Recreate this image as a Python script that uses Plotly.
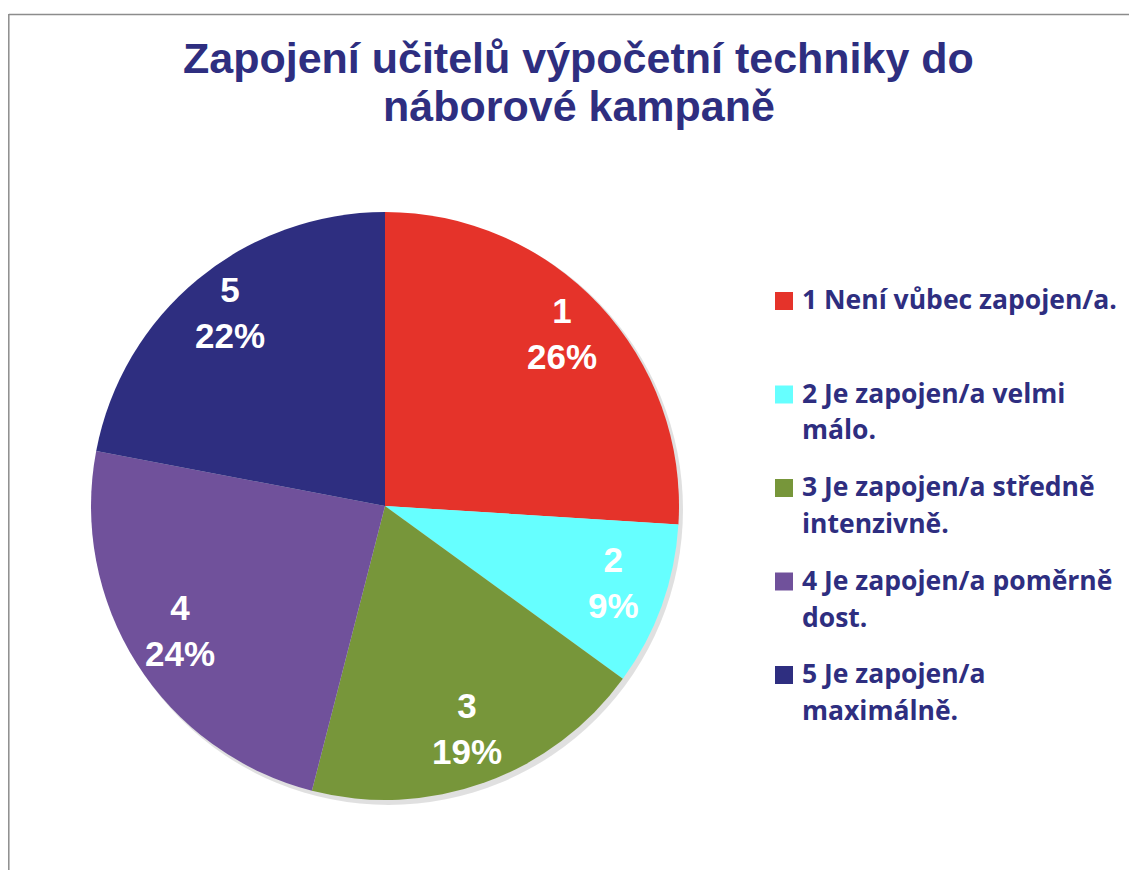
import math
import plotly.graph_objects as go

# ---- data ----
categories = ["1", "2", "3", "4", "5"]
legend_labels = [
    "1 Není vůbec zapojen/a.",
    "2 Je zapojen/a velmi<br>málo.",
    "3 Je zapojen/a středně<br>intenzivně.",
    "4 Je zapojen/a poměrně<br>dost.",
    "5 Je zapojen/a<br>maximálně.",
]
percent_values = [26, 9, 19, 24, 22]
title_lines = ["Zapojení učitelů výpočetní techniky do", "náborové kampaně"]

# ---- style ----
colors = ["#E5332A", "#66FFFF", "#77963A", "#70519B", "#2E2E80"]
navy = "#2E2E80"
OFF = 8  # page body margin
W, H = 1137 - OFF, 870 - OFF


def px(x):
    return (x - OFF) / W


def py(y):
    return 1 - (y - OFF) / H


# pie geometry (screen pixels)
cx, cy, R = 385, 506, 294

fig = go.Figure()
fig.add_trace(go.Pie(
    labels=legend_labels,
    values=percent_values,
    sort=False,
    direction="clockwise",
    rotation=0,
    marker=dict(colors=colors, line=dict(width=0)),
    textinfo="none",
    hoverinfo="label+percent",
    showlegend=False,
    domain=dict(x=[px(cx - R), px(cx + R)], y=[py(cy + R), py(cy - R)]),
))

annotations = []
shapes = []

# border (left and top edges of the chart frame)
shapes.append(dict(type="line", xref="paper", yref="paper",
                   x0=px(8.8), x1=px(8.8), y0=py(900), y1=py(14),
                   line=dict(color="#8C8C8C", width=1.5), layer="below"))
shapes.append(dict(type="line", xref="paper", yref="paper",
                   x0=px(8.8), x1=px(1200), y0=py(14.5), y1=py(14.5),
                   line=dict(color="#8C8C8C", width=1.5), layer="below"))
# soft shadow
shapes.append(dict(type="circle", xref="paper", yref="paper",
                   x0=px(cx - R + 3), x1=px(cx + R + 4), y0=py(cy + R + 5), y1=py(cy - R + 2),
                   line=dict(width=0), fillcolor="rgba(0,0,0,0.12)", layer="below"))

# title
title_y = [58, 106]
for line, yy in zip(title_lines, title_y):
    annotations.append(dict(text=f"<b>{line}</b>", x=px(578.5), y=py(yy), xref="paper", yref="paper",
                            xanchor="center", yanchor="middle", showarrow=False,
                            font=dict(family="Liberation Sans, Arial", size=43, color=navy)))

# slice labels
total = sum(percent_values)
cum = 0
rf = 0.826
for cat, v in zip(categories, percent_values):
    mid = (cum + v / 2) / total * 2 * math.pi
    cum += v
    lx = cx + rf * R * math.sin(mid)
    ly = cy - rf * R * math.cos(mid)
    annotations.append(dict(text=f"<b>{cat}<br>{round(v / total * 100)}%</b>",
                            x=px(lx), y=py(ly - 6), xref="paper", yref="paper",
                            xanchor="center", yanchor="middle", showarrow=False,
                            font=dict(family="Liberation Sans, Arial", size=35, color="white")))

# legend (manual)
leg_x_sq, leg_x_txt = 775, 800
leg_base0, leg_pitch, line_gap = 309, 93.5, 37
for i, (lab, col) in enumerate(zip(legend_labels, colors)):
    base = leg_base0 + i * leg_pitch
    shapes.append(dict(type="rect", xref="paper", yref="paper",
                       x0=px(leg_x_sq), x1=px(leg_x_sq + 18), y0=py(base + 1), y1=py(base - 17),
                       line=dict(width=0), fillcolor=col))
    for j, part in enumerate(lab.split("<br>")):
        annotations.append(dict(text=f"<b>{part}</b>", x=px(leg_x_txt), y=py(base + j * line_gap - 10),
                                xref="paper", yref="paper", xanchor="left", yanchor="middle",
                                showarrow=False,
                                font=dict(family="Open Sans", size=26.5, color=navy)))

fig.update_layout(
    width=W, height=H,
    margin=dict(l=0, r=0, t=0, b=0),
    paper_bgcolor="white", plot_bgcolor="white",
    annotations=annotations, shapes=shapes,
)

fig.write_html("out.html")
